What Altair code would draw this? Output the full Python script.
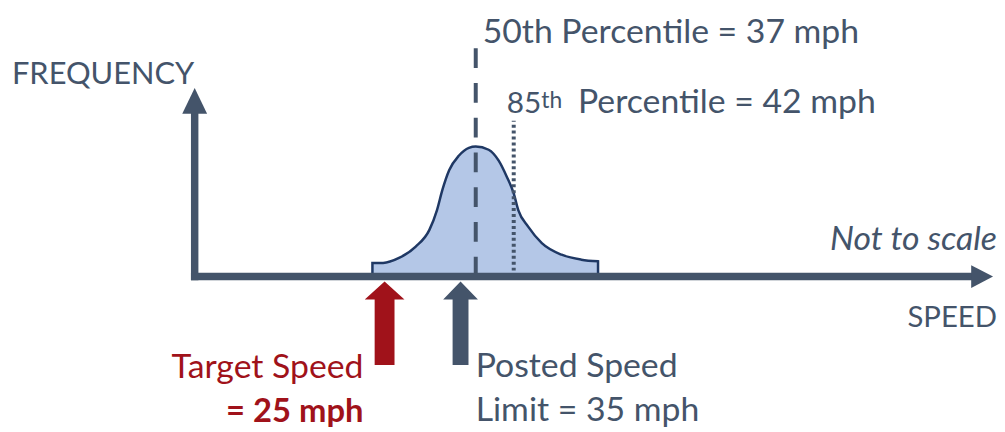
import altair as alt
import pandas as pd

# ---- data (diagram is "not to scale") ----
curve_speed = [23.4, 24.8, 26.9, 29.1, 30.9, 31.9, 32.6, 33.5, 34.8, 36.1, 37.0,
               38.7, 40.0, 41.1, 42.0, 42.6, 43.9, 45.7, 48.3, 50.9, 53.1]
curve_freq = [10.5, 10.5, 14.3, 23.1, 35.9, 51.1, 66.4, 81.7, 93.1, 99.0, 100.0,
              97.5, 89.3, 76.6, 63.9, 51.1, 38.4, 25.7, 16.8, 13.0, 11.7]

p50_speed = [37]
p85_speed = [42]
target_speed = [25]
posted_speed = [35]

LBL_FREQ = "FREQUENCY"
LBL_SPEED = "SPEED"
LBL_SCALE = "Not to scale"
LBL_P50 = "50th Percentile = 37 mph"
LBL_P85_NUM = "85"
LBL_P85_SUP = "th"
LBL_P85_REST = "Percentile = 42 mph"
LBL_TARGET_1 = "Target Speed"
LBL_TARGET_2 = "= 25 mph"
LBL_POSTED_1 = "Posted Speed"
LBL_POSTED_2 = "Limit = 35 mph"

# ---- styling / layout ----
W, H = 996, 420
FONT = "Lato"
GRAY = "#44546A"
RED = "#A0121A"
FILL = "#B4C7E7"
OUTLINE = "#1F3864"

PX_PER_MPH = 7.65
X0 = 188.0  # plot-area pixel of speed 0
xscale = alt.Scale(domain=[-X0 / PX_PER_MPH, (W - X0) / PX_PER_MPH], nice=False, zero=False)
yscale = alt.Scale(domain=[-115.27, 205.34], nice=False, zero=False)

AX_X_END = 102.2   # speed where the horizontal shaft meets its head
AX_X_TIP = 105.1
AX_Y_END = 125.2   # frequency where the vertical shaft meets its head
AX_Y_TIP = 145.0
P50_TOP = 181.0
P85_TOP = 119.8

curve = pd.DataFrame({"speed": curve_speed, "freq": curve_freq})

area = alt.Chart(curve).mark_area(
    fill=FILL, stroke=OUTLINE, strokeWidth=2.5, interpolate="monotone", opacity=1
).encode(
    x=alt.X("speed:Q", scale=xscale, axis=None),
    y=alt.Y("freq:Q", scale=yscale, axis=None),
    y2=alt.datum(0),
)

p50 = alt.Chart(pd.DataFrame({"speed": p50_speed, "lo": [0.0], "hi": [P50_TOP]})).mark_rule(
    color=GRAY, strokeWidth=4, strokeDash=[20, 15]
).encode(x=alt.X("speed:Q", scale=xscale), y=alt.Y("lo:Q", scale=yscale), y2="hi:Q")

p85 = alt.Chart(pd.DataFrame({"speed": p85_speed, "lo": [0.0], "hi": [P85_TOP]})).mark_rule(
    color=GRAY, strokeWidth=4, strokeDash=[3, 3]
).encode(x=alt.X("speed:Q", scale=xscale), y=alt.Y("lo:Q", scale=yscale), y2="hi:Q")

axes_df = pd.DataFrame({"x": [0.0, 0.0], "x2": [AX_X_END, 0.0],
                        "y": [0.0, 0.0], "y2": [0.0, AX_Y_END]})
axes = alt.Chart(axes_df).mark_rule(color=GRAY, strokeWidth=7.5, strokeCap="square").encode(
    x=alt.X("x:Q", scale=xscale), x2="x2:Q",
    y=alt.Y("y:Q", scale=yscale), y2="y2:Q")

head_v = alt.Chart(pd.DataFrame({"x": [0.0], "y": [AX_Y_TIP]})).mark_point(
    shape="M 0 0 L 1.25 2.6 L -1.25 2.6 Z", filled=True, size=400, color=GRAY, opacity=1
).encode(x=alt.X("x:Q", scale=xscale), y=alt.Y("y:Q", scale=yscale))

head_h = alt.Chart(pd.DataFrame({"x": [AX_X_TIP], "y": [0.0]})).mark_point(
    shape="M 0 0 L -2.2 -1.15 L -2.2 1.15 Z", filled=True, size=400, color=GRAY, opacity=1
).encode(x=alt.X("x:Q", scale=xscale), y=alt.Y("y:Q", scale=yscale))

arrow_red = alt.Chart(pd.DataFrame({"speed": target_speed})).mark_point(
    shape="M 0 0 L 2 1.8 L 1 1.8 L 1 8.4 L -1 8.4 L -1 1.8 L -2 1.8 Z",
    filled=True, size=400, color=RED, opacity=1
).encode(x=alt.X("speed:Q", scale=xscale), y=alt.value(274))

arrow_gray = alt.Chart(pd.DataFrame({"speed": posted_speed})).mark_point(
    shape="M 0 0 L 1.75 1.8 L 0.8 1.8 L 0.8 8.4 L -0.8 8.4 L -0.8 1.8 L -1.75 1.8 Z",
    filled=True, size=400, color=GRAY, opacity=1
).encode(x=alt.X("speed:Q", scale=xscale), y=alt.value(274))


def label(txt, x, y, size, color=GRAY, align="left", style="normal", weight="normal"):
    return alt.Chart(pd.DataFrame({"t": [txt]})).mark_text(
        font=FONT, fontSize=size, color=color, align=align, baseline="alphabetic",
        fontStyle=style, fontWeight=weight
    ).encode(x=alt.value(x), y=alt.value(y), text="t:N")


texts = [
    label(LBL_FREQ, 4, 75, 31),
    label(LBL_SPEED, 996, 320, 29.5, align="right"),
    label(LBL_SCALE, 996, 242, 34, align="right", style="italic"),
    label(LBL_P50, 478, 34, 34),
    label(LBL_P85_NUM, 537, 104, 30, align="right"),
    label(LBL_P85_SUP, 537, 99, 23),
    label(LBL_P85_REST, 574, 104, 34),
    label(LBL_TARGET_1, 358, 371, 34, color=RED, align="right"),
    label(LBL_TARGET_2, 358, 415, 33, color=RED, align="right", weight="bold"),
    label(LBL_POSTED_1, 471, 370, 34),
    label(LBL_POSTED_2, 471, 414, 34),
]

chart = alt.layer(area, p50, p85, axes, head_v, head_h, arrow_red, arrow_gray, *texts).properties(
    width=W, height=H, autosize=alt.AutoSizeParams(type="none"), padding=0, background="white"
).configure_view(stroke=None)

chart.save("out.html", embed_options={"renderer": "svg", "actions": False})
